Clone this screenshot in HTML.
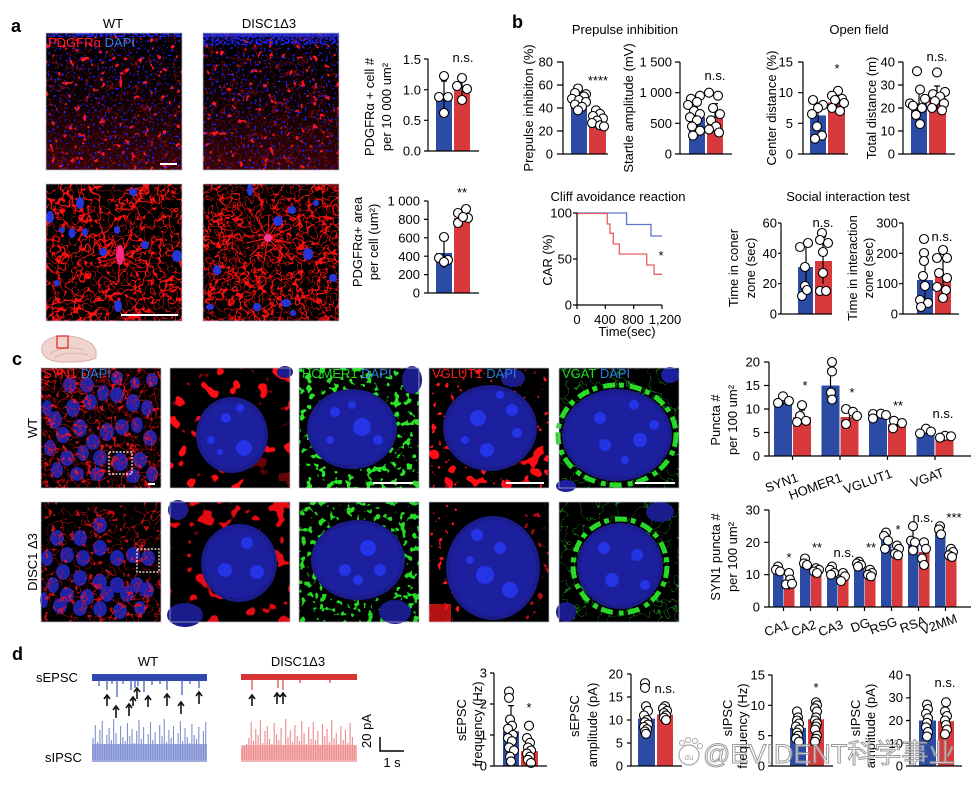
<!DOCTYPE html>
<html><head><meta charset="utf-8">
<style>
html,body{margin:0;padding:0;background:#fff;}
svg{display:block;font-family:"Liberation Sans",Arial,sans-serif;}
.ax{stroke:#000;stroke-width:1.2;fill:none}
.t{font-size:13px;fill:#000}
.p{fill:#fff;stroke:#000;stroke-width:1.1}
.e{stroke:#000;stroke-width:1.2;fill:none}
.B{fill:#2c4ba5}
.R{fill:#d8393d}
.L{font-size:18px;font-weight:bold;fill:#000}
.bl{fill:#2434e6}
.n1{fill:#1a1c8c}
.n2{fill:#1d209e}
.fr{fill:none;stroke:#b9bccc;stroke-width:0.7}
</style></head><body>
<svg width="975" height="788" viewBox="0 0 975 788" xmlns="http://www.w3.org/2000/svg">
<defs>
<filter id="dotB" x="0" y="0" width="1" height="1" color-interpolation-filters="sRGB">
 <feTurbulence type="fractalNoise" baseFrequency="0.42" numOctaves="1" seed="3"/>
 <feColorMatrix type="matrix" values="0 0 0 0 0.1 0 0 0 0 0.12 0 0 0 0 1 20 0 0 0 -12.8"/>
</filter>
<filter id="dotB2" x="0" y="0" width="1" height="1" color-interpolation-filters="sRGB">
 <feTurbulence type="fractalNoise" baseFrequency="0.5" numOctaves="1" seed="5"/>
 <feColorMatrix type="matrix" values="0 0 0 0 0.12 0 0 0 0 0.14 0 0 0 0 1 20 0 0 0 -10"/>
</filter>
<filter id="dotR" x="0" y="0" width="1" height="1" color-interpolation-filters="sRGB">
 <feTurbulence type="fractalNoise" baseFrequency="0.16" numOctaves="2" seed="9"/>
 <feColorMatrix type="matrix" values="0 0 0 0 1 0 0 0 0 0.08 0 0 0 0 0.15 20 0 0 0 -13.4"/>
</filter>
<filter id="netR" x="0" y="0" width="1" height="1" color-interpolation-filters="sRGB">
 <feTurbulence type="fractalNoise" baseFrequency="0.05" numOctaves="3" seed="4"/>
 <feColorMatrix type="matrix" values="0 0 0 0 1 0 0 0 0 0.07 0 0 0 0 0.07 1.8 0 0 0 -0.4"/>
 <feComponentTransfer><feFuncA type="table" tableValues="0 0 0 0 0 0 0 0 0 0 0 0 0 0 1 1 0 0 0 0 0 0 0 0 0 0 0 0 0 0"/></feComponentTransfer>
</filter>
<filter id="netR2" x="0" y="0" width="1" height="1" color-interpolation-filters="sRGB">
 <feTurbulence type="fractalNoise" baseFrequency="0.11" numOctaves="2" seed="12"/>
 <feColorMatrix type="matrix" values="0 0 0 0 1 0 0 0 0 0.06 0 0 0 0 0.06 1.8 0 0 0 -0.4"/>
 <feComponentTransfer><feFuncA type="table" tableValues="0 0 0 0 0 0 0 0 0 0 0 0 0 0 1 1 0 0 0 0 0 0 0 0 0 0 0 0 0 0"/></feComponentTransfer>
</filter>
<filter id="netR3" x="0" y="0" width="1" height="1" color-interpolation-filters="sRGB">
 <feTurbulence type="fractalNoise" baseFrequency="0.08" numOctaves="2" seed="17"/>
 <feColorMatrix type="matrix" values="0 0 0 0 1 0 0 0 0 0.06 0 0 0 0 0.06 3 0 0 0 -1"/>
 <feComponentTransfer><feFuncA type="table" tableValues="0 0 0 0 0 0 0 0 0 0 0 0 0 0 1 1 0 0 0 0 0 0 0 0 0 0 0 0 0 0"/></feComponentTransfer>
</filter>
<filter id="blobR" x="0" y="0" width="1" height="1" color-interpolation-filters="sRGB">
 <feTurbulence type="fractalNoise" baseFrequency="0.07" numOctaves="2" seed="21"/>
 <feColorMatrix type="matrix" values="0 0 0 0 1 0 0 0 0 0.05 0 0 0 0 0.08 20 0 0 0 -12"/>
</filter>
<filter id="blobG" x="0" y="0" width="1" height="1" color-interpolation-filters="sRGB">
 <feTurbulence type="fractalNoise" baseFrequency="0.15" numOctaves="2" seed="33"/>
 <feColorMatrix type="matrix" values="0 0 0 0 0.15 0 0 0 0 0.9 0 0 0 0 0.15 20 0 0 0 -11.6"/>
</filter>
<filter id="netG" x="0" y="0" width="1" height="1" color-interpolation-filters="sRGB">
 <feTurbulence type="fractalNoise" baseFrequency="0.06" numOctaves="3" seed="41"/>
 <feColorMatrix type="matrix" values="0 0 0 0 0.2 0 0 0 0 0.95 0 0 0 0 0.2 3 0 0 0 -1"/>
 <feComponentTransfer><feFuncA type="table" tableValues="0 0 0 0 0 0 0 0 0 0 0 0 0 0 1 1 0 0 0 0 0 0 0 0 0 0 0 0 0 0"/></feComponentTransfer>
</filter>
<linearGradient id="hz" x1="0" y1="0" x2="0" y2="1">
 <stop offset="0" stop-color="#ff1010" stop-opacity="0"/>
 <stop offset="0.5" stop-color="#ff1010" stop-opacity="0.06"/>
 <stop offset="1" stop-color="#ff1010" stop-opacity="0.22"/>
</linearGradient>
</defs>

<!-- ================= PANEL A ================= -->
<text class="L" x="11" y="32">a</text>
<text class="t" x="113" y="28" text-anchor="middle">WT</text>
<text class="t" x="269" y="28" text-anchor="middle">DISC1Δ3</text>

<g>
<rect x="46" y="33" width="136" height="137" fill="#000"/>
<rect x="46" y="33" width="136" height="137" fill="url(#hz)"/>
<rect x="46" y="33" width="136" height="137" filter="url(#netR3)" opacity="0.45"/>
<rect x="46" y="33" width="136" height="137" filter="url(#dotR)"/>
<rect x="46" y="33" width="136" height="137" filter="url(#dotB)"/>
<rect x="46" y="33" width="136" height="4" filter="url(#dotB2)"/>
<line x1="160" y1="164" x2="177" y2="164" stroke="#fff" stroke-width="2"/>
<rect x="46" y="33" width="136" height="137" class="fr"/>
<text x="48" y="47" style="font-size:13px"><tspan fill="#ff1a2a">PDGFRα</tspan><tspan fill="#2a7ee0"> DAPI</tspan></text>
</g>
<g>
<rect x="203" y="33" width="136" height="137" fill="#000"/>
<rect x="203" y="33" width="136" height="137" fill="url(#hz)"/>
<rect x="203" y="33" width="136" height="137" filter="url(#netR3)" opacity="0.5"/>
<rect x="203" y="33" width="136" height="137" filter="url(#dotR)"/>
<rect x="203" y="33" width="136" height="137" filter="url(#dotB)"/>
<rect x="203" y="33" width="136" height="12" filter="url(#dotB2)"/>
<rect x="203" y="33" width="136" height="4" fill="#2a30d8" opacity="0.7"/>
<rect x="203" y="33" width="136" height="137" class="fr"/>
</g>
<g>
<rect x="46" y="184" width="136" height="137" fill="#000"/>
<rect x="46" y="184" width="136" height="137" filter="url(#netR)"/>
<rect x="46" y="184" width="136" height="137" filter="url(#netR2)"/>
<g stroke="#ff1515" stroke-width="1" fill="none">
<path d="M120 257L112 235M120 257L132 232M120 257L98 263M120 257L142 268M120 257L118 282M120 257L145 247M120 257L96 243"/>
</g>
<ellipse cx="120" cy="255" rx="4" ry="10" fill="#ff2a8a"/>
<g style="fill:#2636d8">
<ellipse cx="50" cy="217" rx="4" ry="6"/><ellipse cx="72" cy="233" rx="3.5" ry="5"/><ellipse cx="85" cy="232" rx="3" ry="4"/>
<ellipse cx="117" cy="230" rx="3" ry="4"/><ellipse cx="103" cy="252" rx="4" ry="4"/><ellipse cx="145" cy="245" rx="4" ry="4"/>
<ellipse cx="177" cy="256" rx="5" ry="6"/><ellipse cx="133" cy="192" rx="4" ry="4"/><ellipse cx="80" cy="203" rx="4" ry="6"/>
<ellipse cx="118" cy="306" rx="4" ry="6"/><ellipse cx="57" cy="283" rx="3" ry="3"/><ellipse cx="62" cy="230" rx="3" ry="3"/>
</g>
<line x1="121" y1="315" x2="178" y2="315" stroke="#fff" stroke-width="2"/>
<rect x="46" y="184" width="136" height="137" class="fr"/>
</g>
<g>
<rect x="203" y="184" width="136" height="137" fill="#000"/>
<rect x="203" y="184" width="136" height="137" filter="url(#netR)"/>
<rect x="203" y="184" width="136" height="137" filter="url(#netR2)"/>
<rect x="203" y="184" width="136" height="137" filter="url(#netR3)" opacity="0.8"/>
<g stroke="#ff1515" stroke-width="1" fill="none">
<path d="M268 238L256 218M268 238L282 216M268 238L246 243M268 238L292 243M268 238L264 262M268 238L286 258M268 238L250 256M268 238L269 214M268 238L292 228"/>
</g>
<circle cx="268" cy="238" r="4" fill="#ff3a9a"/>
<g style="fill:#2636d8">
<ellipse cx="217" cy="270" rx="4" ry="5"/><ellipse cx="210" cy="307" rx="4" ry="3"/><ellipse cx="250" cy="190" rx="3" ry="6"/>
<ellipse cx="278" cy="221" rx="5" ry="5"/><ellipse cx="292" cy="210" rx="4" ry="4"/><ellipse cx="308" cy="254" rx="5" ry="6"/>
<ellipse cx="333" cy="278" rx="4" ry="4"/><ellipse cx="286" cy="303" rx="5" ry="4"/><ellipse cx="257" cy="307" rx="4" ry="4"/>
<ellipse cx="316" cy="203" rx="3" ry="3"/><ellipse cx="293" cy="313" rx="3" ry="3"/>
</g>
<rect x="203" y="184" width="136" height="137" class="fr"/>
</g>

<g>
<text class="t" transform="translate(374,107) rotate(-90)" text-anchor="middle">PDGFRα + cell #</text>
<text class="t" transform="translate(391,107) rotate(-90)" text-anchor="middle">per 10 000 um²</text>
<g class="t" text-anchor="end"><text x="421" y="64">1.5</text><text x="421" y="94.5">1.0</text><text x="421" y="125">0.5</text><text x="421" y="155.5">0.0</text></g>
<rect class="B" x="436" y="96" width="16" height="55"/>
<rect class="R" x="454" y="90" width="16" height="61"/>
<path class="e" d="M444 81V112M441 81H447M462 81V99M459 81H465"/>
<g class="p"><circle cx="444" cy="76" r="4.5"/><circle cx="448" cy="97" r="4.5"/><circle cx="439" cy="97" r="4.5"/><circle cx="444" cy="113" r="4.5"/>
<circle cx="462" cy="78" r="4.5"/><circle cx="457" cy="86" r="4.5"/><circle cx="467" cy="89" r="4.5"/><circle cx="462" cy="100" r="4.5"/></g>
<path class="ax" d="M428 59V151H479M424 59H428M424 89.7H428M424 120.3H428M424 151H428"/>
<text class="t" x="463" y="62" text-anchor="middle">n.s.</text>
</g>
<g>
<text class="t" transform="translate(362,242) rotate(-90)" text-anchor="middle">PDGFRα+ area</text>
<text class="t" transform="translate(378,242) rotate(-90)" text-anchor="middle">per cell (um²)</text>
<g class="t" text-anchor="end"><text x="420" y="205.5">1 000</text><text x="420" y="224">800</text><text x="420" y="242.4">600</text><text x="420" y="260.8">400</text><text x="420" y="279.2">200</text><text x="420" y="297.5">0</text></g>
<rect class="B" x="436" y="253" width="16" height="40"/>
<rect class="R" x="454" y="218" width="16" height="75"/>
<path class="e" d="M444 240V268M441 240H447M462 211V226M459 211H465"/>
<g class="p"><circle cx="444" cy="237" r="4.5"/><circle cx="439" cy="258" r="4.5"/><circle cx="448" cy="260" r="4.5"/><circle cx="444" cy="262" r="4.5"/>
<circle cx="458" cy="213" r="4.5"/><circle cx="466" cy="209" r="4.5"/><circle cx="468" cy="218" r="4.5"/><circle cx="458" cy="223" r="4.5"/><circle cx="463" cy="217" r="4.5"/></g>
<path class="ax" d="M428 201V293H479M424 201H428M424 219.4H428M424 237.8H428M424 256.2H428M424 274.6H428M424 293H428"/>
<text class="t" x="462" y="197" text-anchor="middle">**</text>
</g>

<!-- ================= PANEL B ================= -->
<text class="L" x="512" y="28">b</text>
<text class="t" x="625" y="34" text-anchor="middle">Prepulse inhibition</text>
<text class="t" x="859" y="34" text-anchor="middle">Open field</text>

<g>
<text class="t" transform="translate(533,108) rotate(-90)" text-anchor="middle">Prepulse inhibiton (%)</text>
<g class="t" text-anchor="end"><text x="553" y="66.5">80</text><text x="553" y="89.5">60</text><text x="553" y="112.5">40</text><text x="553" y="135.5">20</text><text x="553" y="158.5">0</text></g>
<rect class="B" x="571" y="101" width="16" height="53"/>
<rect class="R" x="589" y="120.7" width="17" height="33.3"/>
<path class="e" d="M579 95V107M576 95H582M597 115V126"/>
<g class="p"><circle cx="578" cy="88.5" r="4.5"/><circle cx="575" cy="93" r="4.5"/><circle cx="586" cy="94.2" r="4.5"/><circle cx="584" cy="96.5" r="4.5"/><circle cx="572" cy="98.8" r="4.5"/><circle cx="579" cy="100" r="4.5"/><circle cx="586" cy="102" r="4.5"/><circle cx="575" cy="104.5" r="4.5"/><circle cx="582" cy="106.8" r="4.5"/><circle cx="578" cy="110.3" r="4.5"/>
<circle cx="596" cy="110.3" r="4.5"/><circle cx="600" cy="113.8" r="4.5"/><circle cx="593" cy="116" r="4.5"/><circle cx="603" cy="118.4" r="4.5"/><circle cx="597" cy="120.6" r="4.5"/><circle cx="592" cy="123" r="4.5"/><circle cx="600" cy="125.3" r="4.5"/><circle cx="604" cy="126.4" r="4.5"/></g>
<path class="ax" d="M563 62V154H608M557 62H563M557 85H563M557 108H563M557 131H563M557 154H563"/>
<text class="t" x="598" y="85" text-anchor="middle">****</text>
</g>
<g>
<text class="t" transform="translate(633,108) rotate(-90)" text-anchor="middle">Startle amplitude (mV)</text>
<g class="t" text-anchor="end"><text x="672" y="66.5">1 500</text><text x="672" y="97.2">1 000</text><text x="672" y="127.8">500</text><text x="672" y="158.5">0</text></g>
<rect class="B" x="689" y="117.2" width="16" height="36.8"/>
<rect class="R" x="707" y="117.2" width="16" height="36.8"/>
<path class="e" d="M697 105V129.5M694 105H700M715 103.7V130.7M712 103.7H718"/>
<g class="p"><circle cx="700" cy="95.7" r="4.5"/><circle cx="691" cy="98.8" r="4.5"/><circle cx="697" cy="101.9" r="4.5"/><circle cx="688" cy="104.9" r="4.5"/><circle cx="694" cy="111" r="4.5"/><circle cx="700" cy="114.1" r="4.5"/><circle cx="690" cy="117.2" r="4.5"/><circle cx="697" cy="120.3" r="4.5"/><circle cx="692" cy="126.4" r="4.5"/><circle cx="700" cy="130.7" r="4.5"/><circle cx="693" cy="135.6" r="4.5"/>
<circle cx="709" cy="92.7" r="4.5"/><circle cx="718" cy="95.7" r="4.5"/><circle cx="713" cy="108" r="4.5"/><circle cx="720" cy="114.1" r="4.5"/><circle cx="711" cy="120.3" r="4.5"/><circle cx="716" cy="126.4" r="4.5"/><circle cx="709" cy="129.5" r="4.5"/><circle cx="719" cy="132.5" r="4.5"/></g>
<path class="ax" d="M680 62V154H732M675 62H680M675 92.7H680M675 123.3H680M675 154H680"/>
<text class="t" x="715" y="80" text-anchor="middle">n.s.</text>
</g>
<g>
<text class="t" transform="translate(776,108) rotate(-90)" text-anchor="middle">Center distance (%)</text>
<g class="t" text-anchor="end"><text x="793" y="66.5">15</text><text x="793" y="97.2">10</text><text x="793" y="127.8">5</text><text x="793" y="158.5">0</text></g>
<rect class="B" x="810" y="115.4" width="16" height="38.6"/>
<rect class="R" x="828" y="102.5" width="17" height="51.5"/>
<path class="e" d="M818 103V127.6M815 103H821M837 95V110M834 95H840"/>
<g class="p"><circle cx="813" cy="100" r="4.5"/><circle cx="823" cy="104.9" r="4.5"/><circle cx="818" cy="108" r="4.5"/><circle cx="812" cy="114.1" r="4.5"/><circle cx="817" cy="126.4" r="4.5"/><circle cx="822" cy="135.6" r="4.5"/><circle cx="815" cy="138.7" r="4.5"/>
<circle cx="838" cy="90.8" r="4.5"/><circle cx="832" cy="95.7" r="4.5"/><circle cx="842" cy="98.8" r="4.5"/><circle cx="835" cy="100" r="4.5"/><circle cx="844" cy="103" r="4.5"/><circle cx="832" cy="108" r="4.5"/><circle cx="840" cy="111.1" r="4.5"/></g>
<path class="ax" d="M803 62V154H848M798 62H803M798 92.7H803M798 123.3H803M798 154H803"/>
<text class="t" x="837" y="73" text-anchor="middle">*</text>
</g>
<g>
<text class="t" transform="translate(876,108) rotate(-90)" text-anchor="middle">Total distance (m)</text>
<g class="t" text-anchor="end"><text x="895" y="66.5">40</text><text x="895" y="89.5">30</text><text x="895" y="112.5">20</text><text x="895" y="135.5">10</text><text x="895" y="158.5">0</text></g>
<rect class="B" x="911" y="103.4" width="16" height="50.6"/>
<rect class="R" x="929" y="97.7" width="17" height="56.3"/>
<path class="e" d="M919 87V119.5M916 87H922M937 86V109M934 86H940"/>
<g class="p"><circle cx="917" cy="71.2" r="4.5"/><circle cx="920" cy="89.6" r="4.5"/><circle cx="925" cy="98.8" r="4.5"/><circle cx="910" cy="103.4" r="4.5"/><circle cx="913" cy="105.7" r="4.5"/><circle cx="922" cy="108" r="4.5"/><circle cx="916" cy="114.9" r="4.5"/><circle cx="920" cy="124.1" r="4.5"/>
<circle cx="937" cy="72.4" r="4.5"/><circle cx="945" cy="91.9" r="4.5"/><circle cx="933" cy="94.2" r="4.5"/><circle cx="940" cy="96.5" r="4.5"/><circle cx="935" cy="101.1" r="4.5"/><circle cx="944" cy="103.4" r="4.5"/><circle cx="932" cy="108" r="4.5"/><circle cx="942" cy="110.3" r="4.5"/></g>
<path class="ax" d="M903 62V154H955M898 62H903M898 85H903M898 108H903M898 131H903M898 154H903"/>
<text class="t" x="937" y="61" text-anchor="middle">n.s.</text>
</g>

<g>
<text class="t" x="618" y="201" text-anchor="middle">Cliff avoidance reaction</text>
<text class="t" transform="translate(552,260) rotate(-90)" text-anchor="middle">CAR (%)</text>
<g class="t" text-anchor="end"><text x="572" y="217.5">100</text><text x="572" y="263.5">50</text><text x="572" y="309.5">0</text></g>
<g class="t" text-anchor="middle"><text x="577" y="324">0</text><text x="605" y="324">400</text><text x="633" y="324">800</text><text x="665" y="324">1,200</text></g>
<text class="t" x="627" y="336" text-anchor="middle">Time(sec)</text>
<path d="M577 213H626.6V224.5H651V236H662" fill="none" stroke="#5a74d0" stroke-width="1.3"/>
<path d="M577 213.5H607.3V224H610V233.3H613.3V244H619.3V254H646.7V265H654V274.3H662" fill="none" stroke="#e86060" stroke-width="1.3"/>
<path class="ax" d="M577 213V305H662M573 213H577M573 259H577M573 305H577M577 305V309M605.3 305V309M633.7 305V309M662 305V309"/>
<text class="t" x="661" y="260" text-anchor="middle">*</text>
</g>

<text class="t" x="848" y="201" text-anchor="middle">Social interaction test</text>
<g>
<text class="t" transform="translate(738,268) rotate(-90)" text-anchor="middle">Time in coner</text>
<text class="t" transform="translate(755,268) rotate(-90)" text-anchor="middle">zone (sec)</text>
<g class="t" text-anchor="end"><text x="777" y="227.5">60</text><text x="777" y="257.8">40</text><text x="777" y="288.2">20</text><text x="777" y="318.5">0</text></g>
<rect class="B" x="798" y="267" width="15" height="47"/>
<rect class="R" x="815" y="261" width="17" height="53"/>
<path class="e" d="M806 244V290M803 244H809M823 237V284M820 237H826"/>
<g class="p"><circle cx="800" cy="247" r="4.5"/><circle cx="808" cy="243" r="4.5"/><circle cx="805" cy="267" r="4.5"/><circle cx="805" cy="286" r="4.5"/><circle cx="802" cy="296" r="4.5"/><circle cx="807" cy="290" r="4.5"/>
<circle cx="822" cy="233" r="4.5"/><circle cx="820" cy="240" r="4.5"/><circle cx="828" cy="243" r="4.5"/><circle cx="823" cy="252" r="4.5"/><circle cx="823" cy="273" r="4.5"/><circle cx="820" cy="291" r="4.5"/><circle cx="826" cy="291" r="4.5"/></g>
<path class="ax" d="M781 223V314H832M778 223H781M778 253.3H781M778 283.7H781M778 314H781"/>
<text class="t" x="823" y="227" text-anchor="middle">n.s.</text>
</g>
<g>
<text class="t" transform="translate(857,268) rotate(-90)" text-anchor="middle">Time in interaction</text>
<text class="t" transform="translate(873,268) rotate(-90)" text-anchor="middle">zone (sec)</text>
<g class="t" text-anchor="end"><text x="898" y="227.5">300</text><text x="898" y="257.8">200</text><text x="898" y="288.2">100</text><text x="898" y="318.5">0</text></g>
<rect class="B" x="917" y="280" width="16" height="34"/>
<rect class="R" x="935" y="275" width="16" height="39"/>
<path class="e" d="M925 254V308M922 254H928M943 258V292M940 258H946"/>
<g class="p"><circle cx="924" cy="239" r="4.5"/><circle cx="924" cy="253" r="4.5"/><circle cx="924" cy="261" r="4.5"/><circle cx="923" cy="276" r="4.5"/><circle cx="925" cy="286" r="4.5"/><circle cx="920" cy="300" r="4.5"/><circle cx="928" cy="303" r="4.5"/><circle cx="921" cy="307" r="4.5"/>
<circle cx="943" cy="250" r="4.5"/><circle cx="937" cy="258" r="4.5"/><circle cx="947" cy="258" r="4.5"/><circle cx="939" cy="273" r="4.5"/><circle cx="947" cy="278" r="4.5"/><circle cx="937" cy="287" r="4.5"/><circle cx="946" cy="290" r="4.5"/><circle cx="943" cy="298" r="4.5"/></g>
<path class="ax" d="M903 223V314H959M899 223H903M899 253.3H903M899 283.7H903M899 314H903"/>
<text class="t" x="942" y="241" text-anchor="middle">n.s.</text>
</g>

<!-- ================= PANEL C ================= -->
<text class="L" x="12" y="365">c</text>
<g>
<path d="M42 352C40 343 48 337 60 336C72 335 84 338 92 344L96 350L96 358C90 361 80 362 70 362C58 363 45 361 42 352Z" fill="#efd3cc" stroke="#cfa79f" stroke-width="0.8"/>
<path d="M50 354C58 348 72 346 84 350M54 358C64 352 76 352 88 355" fill="none" stroke="#d6aaa2" stroke-width="0.8"/>
<rect x="57" y="336" width="11" height="12" fill="none" stroke="#e02020" stroke-width="1.2"/>
</g>
<text class="t" transform="translate(37,428) rotate(-90)" text-anchor="middle">WT</text>
<text class="t" transform="translate(37,562) rotate(-90)" text-anchor="middle">DISC1 Δ3</text>

<g>
<rect x="41" y="368" width="120" height="120" fill="#000"/>
<g style="fill:#1e22a8">
<ellipse cx="55" cy="420" rx="7" ry="9"/><ellipse cx="73" cy="408" rx="7" ry="9"/><ellipse cx="90" cy="402" rx="7" ry="8"/><ellipse cx="103" cy="393" rx="6" ry="8"/><ellipse cx="117" cy="395" rx="7" ry="8"/><ellipse cx="133" cy="403" rx="7" ry="9"/><ellipse cx="147" cy="408" rx="6" ry="8"/>
<ellipse cx="63" cy="435" rx="7" ry="8"/><ellipse cx="80" cy="428" rx="7" ry="9"/><ellipse cx="93" cy="442" rx="7" ry="8"/><ellipse cx="107" cy="432" rx="7" ry="9"/><ellipse cx="122" cy="427" rx="7" ry="8"/><ellipse cx="137" cy="425" rx="6" ry="8"/><ellipse cx="150" cy="438" rx="7" ry="8"/>
<ellipse cx="50" cy="448" rx="6" ry="8"/><ellipse cx="67" cy="458" rx="7" ry="8"/><ellipse cx="83" cy="453" rx="6" ry="8"/><ellipse cx="100" cy="458" rx="7" ry="8"/><ellipse cx="120" cy="462" rx="8" ry="9"/><ellipse cx="140" cy="460" rx="7" ry="8"/>
<ellipse cx="57" cy="470" rx="6" ry="8"/><ellipse cx="77" cy="474" rx="7" ry="7"/><ellipse cx="97" cy="474" rx="7" ry="7"/><ellipse cx="133" cy="476" rx="7" ry="7"/><ellipse cx="152" cy="474" rx="6" ry="8"/>
<ellipse cx="70" cy="385" rx="7" ry="8"/><ellipse cx="87" cy="385" rx="7" ry="8"/><ellipse cx="117" cy="378" rx="6" ry="7"/><ellipse cx="47" cy="408" rx="5" ry="8"/><ellipse cx="152" cy="380" rx="6" ry="7"/><ellipse cx="135" cy="383" rx="5" ry="6"/>
</g>
<rect x="41" y="368" width="120" height="120" filter="url(#netR3)"/>
<rect x="41" y="368" width="120" height="120" filter="url(#netR2)" opacity="0.5"/>
<rect x="41" y="368" width="120" height="120" filter="url(#dotR)" opacity="0.8"/>
<rect x="109" y="452" width="23" height="22" fill="none" stroke="#fff" stroke-width="1.2" stroke-dasharray="2,1.5"/>
<line x1="148" y1="484" x2="155" y2="484" stroke="#fff" stroke-width="2"/>
<rect x="41" y="368" width="120" height="120" class="fr"/>
<text x="43" y="378" style="font-size:13px"><tspan fill="#ff1a1a">SYN1</tspan><tspan fill="#2a7ee0"> DAPI</tspan></text>
</g>
<g>
<rect x="41" y="502" width="120" height="120" fill="#000"/>
<g style="fill:#1e22a8">
<ellipse cx="100" cy="525" rx="7" ry="8"/><ellipse cx="80" cy="538" rx="7" ry="8"/><ellipse cx="57" cy="538" rx="7" ry="8"/><ellipse cx="67" cy="555" rx="7" ry="8"/><ellipse cx="47" cy="558" rx="6" ry="8"/><ellipse cx="83" cy="558" rx="7" ry="8"/><ellipse cx="100" cy="548" rx="7" ry="8"/><ellipse cx="117" cy="558" rx="7" ry="8"/><ellipse cx="133" cy="555" rx="7" ry="8"/><ellipse cx="148" cy="558" rx="7" ry="8"/>
<ellipse cx="63" cy="572" rx="7" ry="8"/><ellipse cx="80" cy="578" rx="7" ry="8"/><ellipse cx="100" cy="582" rx="7" ry="8"/><ellipse cx="117" cy="585" rx="7" ry="8"/><ellipse cx="137" cy="585" rx="7" ry="8"/><ellipse cx="53" cy="585" rx="6" ry="8"/>
<ellipse cx="67" cy="595" rx="7" ry="8"/><ellipse cx="87" cy="597" rx="7" ry="8"/><ellipse cx="107" cy="594" rx="7" ry="8"/><ellipse cx="127" cy="594" rx="7" ry="8"/><ellipse cx="147" cy="590" rx="7" ry="8"/>
<ellipse cx="60" cy="606" rx="7" ry="8"/><ellipse cx="80" cy="608" rx="7" ry="8"/><ellipse cx="100" cy="609" rx="7" ry="8"/><ellipse cx="120" cy="611" rx="7" ry="8"/><ellipse cx="44" cy="600" rx="4" ry="8"/><ellipse cx="140" cy="608" rx="6" ry="7"/>
</g>
<rect x="41" y="502" width="120" height="120" filter="url(#netR3)" opacity="0.8"/>
<rect x="41" y="502" width="120" height="120" filter="url(#dotR)" opacity="0.7"/>
<rect x="137" y="549" width="22" height="23" fill="none" stroke="#fff" stroke-width="1.2" stroke-dasharray="2,1.5"/>
<rect x="41" y="502" width="120" height="120" class="fr"/>
</g>

<!-- c col2 WT -->
<g>
<rect x="170" y="368" width="120" height="120" fill="#000"/>
<rect x="170" y="368" width="120" height="120" filter="url(#blobR)"/>
<rect x="250" y="452" width="40" height="36" fill="#000" opacity="0.6"/>
<ellipse cx="232" cy="435" rx="36" ry="38" class="n1"/>
<ellipse cx="232" cy="435" rx="32" ry="34" class="n2"/>
<g class="bl"><circle cx="226" cy="418" r="5"/><circle cx="244" cy="448" r="8"/><circle cx="211" cy="440" r="4"/><circle cx="240" cy="408" r="4"/><circle cx="220" cy="452" r="3"/></g>
<ellipse cx="285" cy="372" rx="8" ry="6" class="n1"/>
<rect x="170" y="368" width="120" height="120" class="fr"/>
</g>
<!-- c col3 WT -->
<g>
<rect x="299" y="368" width="120" height="120" fill="#000"/>
<rect x="299" y="368" width="120" height="120" filter="url(#blobG)"/>
<ellipse cx="352" cy="429" rx="45" ry="40" class="n1"/>
<ellipse cx="352" cy="429" rx="41" ry="36" class="n2"/>
<g class="bl"><circle cx="335" cy="412" r="5"/><circle cx="362" cy="427" r="9"/><circle cx="330" cy="440" r="4"/><circle cx="352" cy="405" r="4"/><circle cx="378" cy="440" r="5"/></g>
<ellipse cx="412" cy="380" rx="10" ry="14" class="n1"/>
<line x1="373" y1="483" x2="413" y2="483" stroke="#fff" stroke-width="2"/>
<rect x="299" y="368" width="120" height="120" class="fr"/>
<text x="302" y="378" style="font-size:13px"><tspan fill="#20dd20">HOMER1</tspan><tspan fill="#2a7ee0"> DAPI</tspan></text>
</g>
<!-- c col4 WT -->
<g>
<rect x="429" y="368" width="120" height="120" fill="#000"/>
<rect x="429" y="368" width="120" height="120" filter="url(#dotR)"/>
<rect x="429" y="446" width="120" height="42" filter="url(#blobR)"/>
<ellipse cx="490" cy="428" rx="47" ry="43" class="n1"/>
<ellipse cx="490" cy="428" rx="43" ry="39" class="n2"/>
<g class="bl"><circle cx="478" cy="418" r="8"/><circle cx="512" cy="410" r="6"/><circle cx="517" cy="433" r="5"/><circle cx="487" cy="450" r="7"/><circle cx="465" cy="440" r="4"/><circle cx="500" cy="395" r="4"/></g>
<ellipse cx="513" cy="378" rx="12" ry="9" class="n1"/>
<line x1="506" y1="483" x2="544" y2="483" stroke="#fff" stroke-width="2"/>
<rect x="429" y="368" width="120" height="120" class="fr"/>
<text x="432" y="378" style="font-size:13px"><tspan fill="#ff1a1a">VGLUT1</tspan><tspan fill="#2a7ee0"> DAPI</tspan></text>
</g>
<!-- c col5 WT -->
<g>
<rect x="559" y="368" width="120" height="120" fill="#000"/>
<ellipse cx="617" cy="435" rx="59" ry="50" fill="none" stroke="#28d828" stroke-width="5" stroke-dasharray="12,4,5,6"/>
<rect x="559" y="368" width="120" height="120" filter="url(#netG)" opacity="0.5"/>
<ellipse cx="617" cy="435" rx="55" ry="46" class="n1"/>
<ellipse cx="617" cy="435" rx="51" ry="42" class="n2"/>
<g class="bl"><circle cx="600" cy="418" r="6"/><circle cx="634" cy="405" r="5"/><circle cx="605" cy="445" r="6"/><circle cx="640" cy="440" r="7"/><circle cx="654" cy="425" r="5"/><circle cx="625" cy="460" r="4"/></g>
<ellipse cx="670" cy="375" rx="9" ry="8" class="n2"/>
<ellipse cx="566" cy="486" rx="10" ry="6" class="n2"/>
<line x1="635" y1="483" x2="675" y2="483" stroke="#fff" stroke-width="2"/>
<rect x="559" y="368" width="120" height="120" class="fr"/>
<text x="562" y="378" style="font-size:13px"><tspan fill="#20dd20">VGAT</tspan><tspan fill="#2a7ee0"> DAPI</tspan></text>
</g>

<!-- c bottom row zoomed -->
<g>
<rect x="170" y="502" width="120" height="120" fill="#000"/>
<rect x="170" y="502" width="120" height="120" filter="url(#blobR)" opacity="0.9"/>
<ellipse cx="239" cy="563" rx="38" ry="39" class="n1"/>
<ellipse cx="239" cy="563" rx="34" ry="35" class="n2"/>
<g class="bl"><circle cx="247" cy="543" r="6"/><circle cx="225" cy="570" r="7"/><circle cx="257" cy="572" r="7"/></g>
<ellipse cx="185" cy="615" rx="18" ry="12" class="n1"/>
<ellipse cx="178" cy="510" rx="10" ry="10" class="n1"/>
<rect x="170" y="502" width="120" height="120" class="fr"/>
</g>
<g>
<rect x="299" y="502" width="120" height="120" fill="#000"/>
<rect x="299" y="502" width="120" height="120" filter="url(#blobG)" opacity="0.95"/>
<ellipse cx="358" cy="560" rx="47" ry="40" class="n1"/>
<ellipse cx="358" cy="560" rx="43" ry="36" class="n2"/>
<g class="bl"><circle cx="368" cy="548" r="8"/><circle cx="345" cy="570" r="6"/><circle cx="380" cy="570" r="6"/><circle cx="358" cy="580" r="5"/></g>
<ellipse cx="395" cy="612" rx="16" ry="12" class="n1"/>
<rect x="299" y="502" width="120" height="120" class="fr"/>
</g>
<g>
<rect x="429" y="502" width="120" height="120" fill="#000"/>
<rect x="429" y="502" width="30" height="120" filter="url(#dotR)"/>
<rect x="520" y="502" width="29" height="120" filter="url(#dotR)" opacity="0.7"/>
<rect x="429" y="604" width="22" height="18" fill="#ff1a1a" opacity="0.7"/>
<ellipse cx="493" cy="568" rx="47" ry="52" class="n1"/>
<ellipse cx="493" cy="568" rx="43" ry="48" class="n2"/>
<g class="bl"><circle cx="477" cy="535" r="6"/><circle cx="500" cy="548" r="6"/><circle cx="485" cy="575" r="9"/><circle cx="510" cy="590" r="8"/><circle cx="470" cy="560" r="4"/></g>
<rect x="429" y="502" width="120" height="120" class="fr"/>
</g>
<g>
<rect x="559" y="502" width="120" height="120" fill="#000"/>
<ellipse cx="620" cy="566" rx="47" ry="47" fill="none" stroke="#28d828" stroke-width="5" stroke-dasharray="12,4,5,6"/>
<rect x="559" y="502" width="120" height="120" filter="url(#netG)" opacity="0.5"/>
<ellipse cx="620" cy="566" rx="43" ry="43" class="n1"/>
<ellipse cx="620" cy="566" rx="39" ry="39" class="n2"/>
<g class="bl"><circle cx="604" cy="548" r="6"/><circle cx="637" cy="555" r="6"/><circle cx="612" cy="580" r="7"/><circle cx="645" cy="585" r="5"/></g>
<ellipse cx="660" cy="512" rx="14" ry="10" class="n1"/>
<ellipse cx="566" cy="612" rx="10" ry="10" class="n1"/>
<rect x="559" y="502" width="120" height="120" class="fr"/>
</g>

<!-- Puncta chart -->
<g>
<text class="t" transform="translate(720,420) rotate(-90)" text-anchor="middle">Puncta #</text>
<text class="t" transform="translate(737,420) rotate(-90)" text-anchor="middle">per 100 um²</text>
<g class="t" text-anchor="end"><text x="760" y="366.5">20</text><text x="760" y="390">15</text><text x="760" y="413.5">10</text><text x="760" y="437">5</text><text x="760" y="460.5">0</text></g>
<rect class="B" x="774" y="402" width="18" height="54"/><rect class="R" x="793" y="417" width="18" height="39"/>
<rect class="B" x="821.5" y="385.5" width="18" height="70.5"/><rect class="R" x="840.5" y="417" width="18" height="39"/>
<rect class="B" x="869" y="416" width="18" height="40"/><rect class="R" x="888" y="424" width="18" height="32"/>
<rect class="B" x="916.5" y="432.5" width="18" height="23.5"/><rect class="R" x="935.5" y="437.2" width="18" height="18.8"/>
<path class="e" d="M783 399V405M802 410V424M799 410H805M830.5 369V402M827.5 369H833.5M849.5 409V425M846.5 409H852.5M897 421V427"/>
<g class="p"><circle cx="783" cy="396.3" r="4.5"/><circle cx="789" cy="401" r="4.5"/><circle cx="778" cy="402.9" r="4.5"/>
<circle cx="802" cy="405.2" r="4.5"/><circle cx="800" cy="416" r="4.5"/><circle cx="806" cy="420.8" r="4.5"/><circle cx="797" cy="422" r="4.5"/>
<circle cx="832" cy="362" r="4.5"/><circle cx="832" cy="371.4" r="4.5"/><circle cx="831" cy="392.6" r="4.5"/><circle cx="832" cy="399.6" r="4.5"/>
<circle cx="846" cy="409" r="4.5"/><circle cx="853" cy="411.8" r="4.5"/><circle cx="857" cy="416" r="4.5"/><circle cx="846" cy="424" r="4.5"/>
<circle cx="873" cy="414" r="4.5"/><circle cx="881" cy="413.7" r="4.5"/><circle cx="886" cy="415.1" r="4.5"/><circle cx="873" cy="418.4" r="4.5"/>
<circle cx="894" cy="420.8" r="4.5"/><circle cx="902" cy="423.1" r="4.5"/><circle cx="893" cy="428.3" r="4.5"/>
<circle cx="926" cy="428.7" r="4.5"/><circle cx="931" cy="431.6" r="4.5"/><circle cx="920" cy="433.4" r="4.5"/>
<circle cx="945" cy="435.8" r="4.5"/><circle cx="951" cy="436.3" r="4.5"/><circle cx="940" cy="437.7" r="4.5"/></g>
<path class="ax" d="M769 362V456H971M764 362H769M764 385.5H769M764 409H769M764 432.5H769M764 456H769M792.5 456V460M840 456V460M887.5 456V460M935 456V460"/>
<g class="t" text-anchor="middle"><text x="805" y="390">*</text><text x="852" y="397">*</text><text x="898" y="410">**</text><text x="943" y="418">n.s.</text></g>
<g class="t" text-anchor="end">
<text transform="translate(799,481) rotate(-20)">SYN1</text>
<text transform="translate(843,481) rotate(-20)">HOMER1</text>
<text transform="translate(893,477) rotate(-20)">VGLUT1</text>
<text transform="translate(945,476) rotate(-20)">VGAT</text>
</g>
</g>

<!-- SYN1 regional chart -->
<g>
<text class="t" transform="translate(720,557) rotate(-90)" text-anchor="middle">SYN1 puncta #</text>
<text class="t" transform="translate(737,557) rotate(-90)" text-anchor="middle">per 100 um²</text>
<g class="t" text-anchor="end"><text x="760" y="514.5">30</text><text x="760" y="546.8">20</text><text x="760" y="579.2">10</text><text x="760" y="611.5">0</text></g>
<rect class="B" x="773" y="570.1" width="10.5" height="36.9"/><rect class="R" x="784" y="582.1" width="10.5" height="24.9"/>
<rect class="B" x="800" y="562" width="10.5" height="45"/><rect class="R" x="811" y="569.2" width="10.5" height="37.8"/>
<rect class="B" x="827" y="573" width="10.5" height="34"/><rect class="R" x="838" y="576.3" width="10.5" height="30.7"/>
<rect class="B" x="854" y="565" width="10.5" height="42"/><rect class="R" x="865" y="573" width="10.5" height="34"/>
<rect class="B" x="881" y="539.1" width="10.5" height="67.9"/><rect class="R" x="892" y="550.4" width="10.5" height="56.6"/>
<rect class="B" x="908" y="540.7" width="10.5" height="66.3"/><rect class="R" x="919" y="552" width="10.5" height="55"/>
<rect class="B" x="935" y="532" width="10.5" height="75"/><rect class="R" x="946" y="555.9" width="10.5" height="51.1"/>
<path class="e" d="M789 575V590M913 525V552M911 525H915M924 545V560"/>
<g class="p">
<circle cx="778" cy="566.6" r="4.5"/><circle cx="776" cy="569.8" r="4.5"/><circle cx="780" cy="571.4" r="4.5"/>
<circle cx="789" cy="573" r="4.5"/><circle cx="790" cy="579.5" r="4.5"/><circle cx="786" cy="584.4" r="4.5"/><circle cx="792" cy="583.7" r="4.5"/>
<circle cx="805" cy="558.5" r="4.5"/><circle cx="804" cy="563.4" r="4.5"/><circle cx="807" cy="565" r="4.5"/>
<circle cx="816" cy="568.2" r="4.5"/><circle cx="819" cy="569.8" r="4.5"/><circle cx="814" cy="571.4" r="4.5"/><circle cx="817" cy="573" r="4.5"/>
<circle cx="832" cy="566.6" r="4.5"/><circle cx="830" cy="569.8" r="4.5"/><circle cx="834" cy="573" r="4.5"/><circle cx="831" cy="574.7" r="4.5"/>
<circle cx="843" cy="573" r="4.5"/><circle cx="845" cy="576.3" r="4.5"/><circle cx="841" cy="581.1" r="4.5"/>
<circle cx="859" cy="561.7" r="4.5"/><circle cx="857" cy="563.4" r="4.5"/><circle cx="861" cy="565" r="4.5"/><circle cx="858" cy="566.6" r="4.5"/>
<circle cx="870" cy="569.8" r="4.5"/><circle cx="872" cy="573" r="4.5"/><circle cx="868" cy="574.7" r="4.5"/><circle cx="871" cy="576.3" r="4.5"/>
<circle cx="886" cy="532.6" r="4.5"/><circle cx="884" cy="535.9" r="4.5"/><circle cx="888" cy="540.7" r="4.5"/><circle cx="885" cy="548.8" r="4.5"/>
<circle cx="897" cy="545.6" r="4.5"/><circle cx="899" cy="548.8" r="4.5"/><circle cx="895" cy="553.7" r="4.5"/><circle cx="898" cy="555.3" r="4.5"/>
<circle cx="913" cy="526.2" r="4.5"/><circle cx="911" cy="540.7" r="4.5"/><circle cx="915" cy="542.3" r="4.5"/><circle cx="913" cy="550.4" r="4.5"/>
<circle cx="924" cy="542.3" r="4.5"/><circle cx="926" cy="548.8" r="4.5"/><circle cx="922" cy="558.5" r="4.5"/><circle cx="924" cy="565" r="4.5"/>
<circle cx="940" cy="526.2" r="4.5"/><circle cx="939" cy="529.4" r="4.5"/><circle cx="941" cy="534.3" r="4.5"/>
<circle cx="951" cy="548.8" r="4.5"/><circle cx="953" cy="552" r="4.5"/><circle cx="949" cy="555.3" r="4.5"/><circle cx="952" cy="556.9" r="4.5"/>
</g>
<path class="ax" d="M769 510V607H971M764 510H769M764 542.3H769M764 574.7H769M764 607H769M783.5 607V611M810.5 607V611M837.5 607V611M864.5 607V611M891.5 607V611M918.5 607V611M945.5 607V611"/>
<g class="t" text-anchor="middle"><text x="789" y="562">*</text><text x="817" y="552">**</text><text x="844" y="557">n.s.</text><text x="871" y="552">**</text><text x="898" y="534">*</text><text x="923" y="522">n.s.</text><text x="954" y="522">***</text></g>
<g class="t" text-anchor="end">
<text transform="translate(790,628) rotate(-20)">CA1</text>
<text transform="translate(817,628) rotate(-20)">CA2</text>
<text transform="translate(844,628) rotate(-20)">CA3</text>
<text transform="translate(871,626) rotate(-20)">DG</text>
<text transform="translate(898,625) rotate(-20)">RSG</text>
<text transform="translate(927,624) rotate(-20)">RSA</text>
<text transform="translate(958,622) rotate(-20)">V2MM</text>
</g>
</g>

<!-- ================= PANEL D ================= -->
<text class="L" x="12" y="660">d</text>
<text class="t" x="148" y="666" text-anchor="middle">WT</text>
<text class="t" x="298" y="666" text-anchor="middle">DISC1Δ3</text>
<text class="t" x="36" y="682">sEPSC</text>
<text class="t" x="45" y="762">sIPSC</text>

<rect x="92" y="674" width="115" height="7" fill="#2f48ad"/>
<path d="M99 680V686M107 680V690M112 680V684M117 680V697M123 680V684M131 680V690M135 680V688M138 680V686M144 680V692M152 680V685M160 680V684M167 680V690M182 680V695M190 680V684M199 680V688" stroke="#4a62c0" stroke-width="1.3"/>
<rect x="241" y="674" width="116" height="6" fill="#d93434"/>
<path d="M252 679V690M278 679V688M283 679V690M300 679V683M330 679V683" stroke="#e05050" stroke-width="1.3"/>
<g stroke="#111" stroke-width="1.6" fill="none">
<path d="M107 706V695M104 699L107 695L110 699M116 718V706M113 710L116 706L119 710M129 716V704M126 708L129 704L132 708M133 706V697M130 701L133 697L136 701M137 699V688M134 692L137 688L140 692M148 707V696M145 700L148 696L151 700M167 706V694M164 698L167 694L170 698M181 714V702M178 706L181 702L184 706M199 704V692M196 696L199 692L202 696"/>
<path d="M252 706V695M249 699L252 695L255 699M277 704V693M274 697L277 693L280 697M283 704V693M280 697L283 693L286 697"/>
</g>

<rect x="92" y="744" width="115" height="18" fill="#a2aee0"/>
<path stroke="#7f90d2" stroke-width="1.1" d="M93 760V738M95.3 760V725M97.6 760V742M99.9 760V730M102.2 760V721M104.5 760V744M106.8 760V735M109.1 760V728M111.4 760V740M113.7 760V719M116 760V733M118.3 760V745M120.6 760V726M122.9 760V737M125.2 760V741M127.5 760V723M129.8 760V736M132.1 760V729M134.4 760V743M136.7 760V731M139 760V720M141.3 760V739M143.6 760V727M145.9 760V744M148.2 760V734M150.5 760V722M152.8 760V740M155.1 760V732M157.4 760V745M159.7 760V725M162 760V736M164.3 760V719M166.6 760V742M168.9 760V730M171.2 760V738M173.5 760V726M175.8 760V744M178.1 760V733M180.4 760V721M182.7 760V741M185 760V728M187.3 760V737M189.6 760V743M191.9 760V724M194.2 760V735M196.5 760V739M198.8 760V727M201.1 760V745M203.4 760V731M205.7 760V722"/>
<rect x="241" y="745" width="116" height="17" fill="#f4b4b4"/>
<path stroke="#ee8a8a" stroke-width="1.1" d="M242 760V748M244.3 760V746M246.6 760V744M248.9 760V738M251.2 760V722M253.5 760V741M255.8 760V729M258.1 760V735M260.4 760V720M262.7 760V743M265 760V731M267.3 760V726M269.6 760V739M271.9 760V744M274.2 760V723M276.5 760V734M278.8 760V740M281.1 760V728M283.4 760V745M285.7 760V719M288 760V737M290.3 760V730M292.6 760V742M294.9 760V725M297.2 760V736M299.5 760V741M301.8 760V721M304.1 760V733M306.4 760V744M308.7 760V727M311 760V739M313.3 760V722M315.6 760V740M317.9 760V731M320.2 760V745M322.5 760V724M324.8 760V736M327.1 760V729M329.4 760V742M331.7 760V720M334 760V738M336.3 760V733M338.6 760V744M340.9 760V726M343.2 760V740M345.5 760V730M347.8 760V743M350.1 760V723M352.4 760V737M354.7 760V745"/>

<path d="M380 737V751H404" fill="none" stroke="#000" stroke-width="1.5"/>
<text class="t" transform="translate(371,731) rotate(-90)" text-anchor="middle">20 pA</text>
<text class="t" x="392" y="767" text-anchor="middle">1 s</text>

<g>
<text class="t" transform="translate(466,720) rotate(-90)" text-anchor="middle">sEPSC</text>
<text class="t" transform="translate(482,724) rotate(-90)" text-anchor="middle">frequency (Hz)</text>
<g class="t" text-anchor="end"><text x="487" y="677.5">3</text><text x="487" y="708.5">2</text><text x="487" y="739.5">1</text><text x="487" y="770.5">0</text></g>
<rect class="B" x="503" y="731.3" width="16" height="34.7"/>
<rect class="R" x="521" y="751.1" width="17" height="14.9"/>
<path class="e" d="M511 705.6V755M508 705.6H514M529.5 741.8V760"/>
<g class="p"><circle cx="509" cy="691.6" r="4.5"/><circle cx="509" cy="697.8" r="4.5"/><circle cx="510" cy="719.5" r="4.5"/><circle cx="512" cy="725.7" r="4.5"/><circle cx="508" cy="728.8" r="4.5"/><circle cx="513" cy="735" r="4.5"/><circle cx="508" cy="738.1" r="4.5"/><circle cx="512" cy="741.2" r="4.5"/><circle cx="509" cy="747.4" r="4.5"/><circle cx="514" cy="750.5" r="4.5"/><circle cx="510" cy="756.7" r="4.5"/><circle cx="511" cy="761.4" r="4.5"/>
<circle cx="529" cy="725.7" r="4.5"/><circle cx="527" cy="738.1" r="4.5"/><circle cx="530" cy="742.8" r="4.5"/><circle cx="528" cy="747.4" r="4.5"/><circle cx="531" cy="750.5" r="4.5"/><circle cx="527" cy="753.6" r="4.5"/><circle cx="530" cy="756.7" r="4.5"/><circle cx="528" cy="759.8" r="4.5"/><circle cx="531" cy="762.9" r="4.5"/></g>
<path class="ax" d="M494 673V766H547M490 673H494M490 704H494M490 735H494M490 766H494"/>
<text class="t" x="529" y="712" text-anchor="middle">*</text>
</g>
<g>
<text class="t" transform="translate(579,716) rotate(-90)" text-anchor="middle">sEPSC</text>
<text class="t" transform="translate(597,725) rotate(-90)" text-anchor="middle">amplitude (pA)</text>
<g class="t" text-anchor="end"><text x="623" y="678.5">20</text><text x="623" y="701.5">15</text><text x="623" y="724.5">10</text><text x="623" y="747.5">5</text><text x="623" y="770.5">0</text></g>
<rect class="B" x="638" y="718.6" width="17" height="47.4"/>
<rect class="R" x="657" y="714.5" width="16" height="51.5"/>
<path class="e" d="M646.5 707V730M665 709V720"/>
<g class="p"><circle cx="645" cy="683.2" r="4.5"/><circle cx="645" cy="687.8" r="4.5"/><circle cx="646" cy="706.2" r="4.5"/><circle cx="648" cy="710.8" r="4.5"/><circle cx="644" cy="715.4" r="4.5"/><circle cx="647" cy="720" r="4.5"/><circle cx="645" cy="722.3" r="4.5"/><circle cx="648" cy="724.6" r="4.5"/><circle cx="644" cy="726.9" r="4.5"/><circle cx="647" cy="729.2" r="4.5"/><circle cx="645" cy="731.5" r="4.5"/><circle cx="646" cy="733.8" r="4.5"/>
<circle cx="665" cy="706.2" r="4.5"/><circle cx="663" cy="708.5" r="4.5"/><circle cx="667" cy="710.8" r="4.5"/><circle cx="664" cy="713.1" r="4.5"/><circle cx="666" cy="715.4" r="4.5"/><circle cx="664" cy="717.7" r="4.5"/><circle cx="666" cy="720" r="4.5"/></g>
<path class="ax" d="M631 674V766H682M627 674H631M627 697H631M627 720H631M627 743H631M627 766H631"/>
<text class="t" x="665" y="693" text-anchor="middle">n.s.</text>
</g>
<g>
<text class="t" transform="translate(732,718) rotate(-90)" text-anchor="middle">sIPSC</text>
<text class="t" transform="translate(747,726) rotate(-90)" text-anchor="middle">frequency (Hz)</text>
<g class="t" text-anchor="end"><text x="765" y="679.5">15</text><text x="765" y="709.8">10</text><text x="765" y="740.2">5</text><text x="765" y="770.5">0</text></g>
<rect class="B" x="790" y="727.8" width="16" height="38.2"/>
<rect class="R" x="808" y="719.3" width="16" height="46.7"/>
<g class="p"><circle cx="797" cy="711.4" r="4.5"/><circle cx="798" cy="717.4" r="4.5"/><circle cx="797" cy="720.5" r="4.5"/><circle cx="799" cy="723.5" r="4.5"/><circle cx="796" cy="726.5" r="4.5"/><circle cx="799" cy="729.6" r="4.5"/><circle cx="797" cy="732.6" r="4.5"/><circle cx="798" cy="735.7" r="4.5"/><circle cx="796" cy="738.7" r="4.5"/><circle cx="799" cy="741.7" r="4.5"/>
<circle cx="816" cy="702.3" r="4.5"/><circle cx="817" cy="705.3" r="4.5"/><circle cx="815" cy="708.3" r="4.5"/><circle cx="817" cy="711.4" r="4.5"/><circle cx="816" cy="717.4" r="4.5"/><circle cx="815" cy="720.5" r="4.5"/><circle cx="817" cy="723.5" r="4.5"/><circle cx="816" cy="726.5" r="4.5"/><circle cx="815" cy="729.6" r="4.5"/><circle cx="817" cy="735.7" r="4.5"/><circle cx="816" cy="738.7" r="4.5"/><circle cx="815" cy="741.7" r="4.5"/></g>
<path class="ax" d="M772 675V766H833M768 675H772M768 705.3H772M768 735.7H772M768 766H772"/>
<text class="t" x="816" y="692" text-anchor="middle">*</text>
</g>
<g>
<text class="t" transform="translate(860,718) rotate(-90)" text-anchor="middle">sIPSC</text>
<text class="t" transform="translate(875,726) rotate(-90)" text-anchor="middle">amplitude (pA)</text>
<g class="t" text-anchor="end"><text x="903" y="679.5">40</text><text x="903" y="702.2">30</text><text x="903" y="725">20</text><text x="903" y="747.8">10</text><text x="903" y="770.5">0</text></g>
<rect class="B" x="919" y="720.5" width="17" height="45.5"/>
<rect class="R" x="938" y="721.2" width="16" height="44.8"/>
<g class="p"><circle cx="927" cy="704.6" r="4.5"/><circle cx="928" cy="709.1" r="4.5"/><circle cx="926" cy="713.7" r="4.5"/><circle cx="928" cy="718.2" r="4.5"/><circle cx="927" cy="722.8" r="4.5"/><circle cx="926" cy="727.3" r="4.5"/><circle cx="928" cy="731.9" r="4.5"/><circle cx="927" cy="736.4" r="4.5"/>
<circle cx="946" cy="702.3" r="4.5"/><circle cx="945" cy="711.4" r="4.5"/><circle cx="947" cy="716" r="4.5"/><circle cx="945" cy="720.5" r="4.5"/><circle cx="946" cy="725" r="4.5"/><circle cx="947" cy="729.6" r="4.5"/><circle cx="945" cy="734.2" r="4.5"/></g>
<path class="ax" d="M910 675V766H962M906 675H910M906 697.8H910M906 720.5H910M906 743.3H910M906 766H910"/>
<text class="t" x="945" y="687" text-anchor="middle">n.s.</text>
</g>

<g opacity="0.85">
<circle cx="689" cy="755" r="10" fill="#fff" stroke="#999" stroke-width="1.2"/>
<circle cx="682" cy="743" r="2.5" fill="#fff" stroke="#999"/><circle cx="688" cy="740" r="2.5" fill="#fff" stroke="#999"/><circle cx="695" cy="741" r="2.5" fill="#fff" stroke="#999"/><circle cx="700" cy="746" r="2.5" fill="#fff" stroke="#999"/>
<text x="689" y="760" text-anchor="middle" style="font-size:8px;fill:#999">du</text>
<text x="703" y="763" style="font-family:'Liberation Sans','Noto Sans CJK SC',sans-serif;font-size:27px;fill:#fff;fill-opacity:0.75;stroke:#8a8a8a;stroke-width:1">@EVIDENT科学事业</text>
</g>
</svg>
</body></html>
